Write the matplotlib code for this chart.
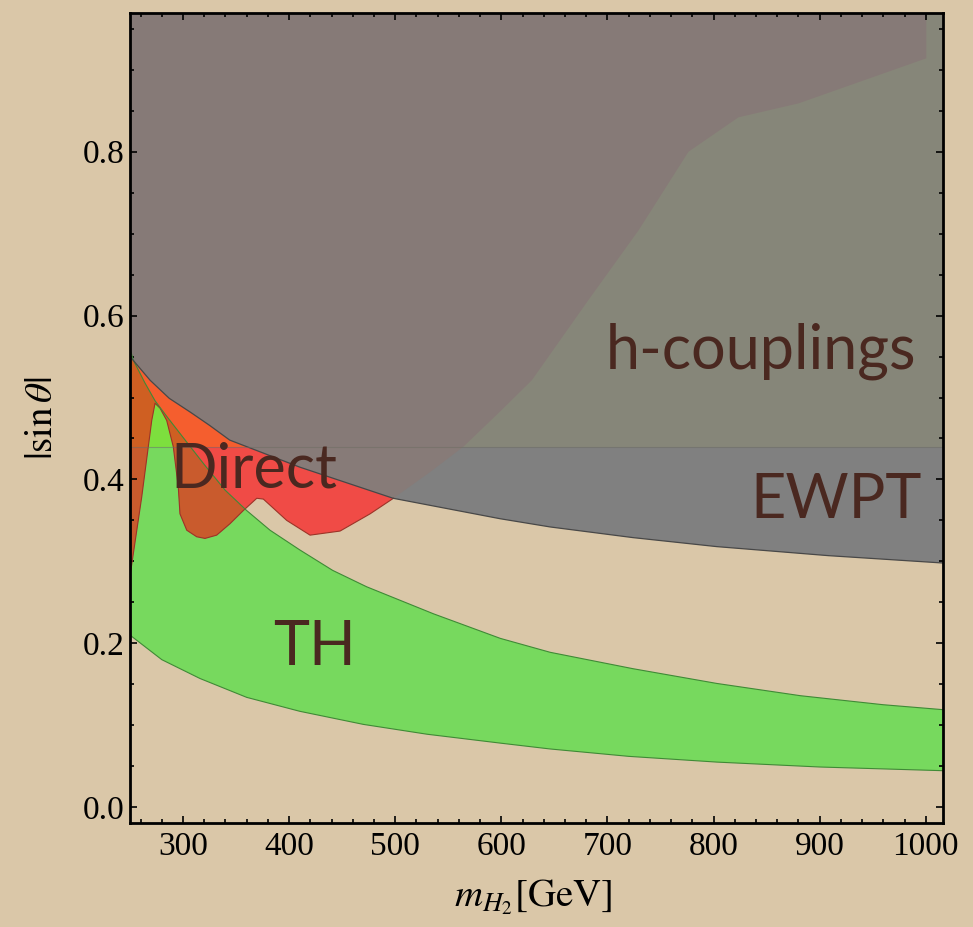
import matplotlib
matplotlib.use("Agg")
import matplotlib.pyplot as plt
import matplotlib.ticker as ticker
from matplotlib.patches import Polygon
from matplotlib.transforms import Bbox, TransformedBbox
import numpy as np

# EWPT bound (excluded above)
ewpt_m = [250, 269, 287, 307, 325, 344, 410, 498, 599, 646, 724, 803, 908, 1016]
ewpt_s = [0.550, 0.521, 0.499, 0.482, 0.466, 0.448, 0.415, 0.377, 0.352, 0.342,
          0.329, 0.318, 0.307, 0.298]

# TH band, upper and lower edges
th_hi_m = [250, 253, 264, 273.6, 284.6, 302, 320.7, 339.6, 360, 382, 410, 441,
           473, 536, 599, 646, 724, 803, 882, 960, 1016]
th_hi_s = [0.560, 0.546, 0.518, 0.496, 0.477, 0.448, 0.417, 0.387, 0.362, 0.338,
           0.314, 0.289, 0.269, 0.236, 0.206, 0.189, 0.169, 0.151, 0.136, 0.125, 0.119]
th_lo_m = [250, 280, 316, 360, 410, 470, 530, 600, 646, 720, 803, 900, 1016]
th_lo_s = [0.210, 0.180, 0.157, 0.134, 0.117, 0.101, 0.089, 0.078, 0.071, 0.062,
           0.055, 0.049, 0.0445]

# Direct searches: lower edge (visible part) and the part hidden under EWPT
direct_lo_m = [250, 261, 270.5, 273.6, 278.3, 284.6, 290.8, 295.5, 297.1, 303.5,
               312.9, 320.7, 331.7, 344.3, 356.8, 369.5, 375.7, 397.7, 419.7, 448,
               476.3, 498.3]
direct_lo_s = [0.282, 0.378, 0.472, 0.493, 0.487, 0.472, 0.440, 0.391, 0.358, 0.338,
               0.330, 0.328, 0.332, 0.346, 0.362, 0.377, 0.376, 0.350, 0.332, 0.337,
               0.358, 0.377]
direct_up_m = [532.9, 564.3, 598.9, 628.7, 655.4, 682.1, 729.3, 776.4, 823.5, 880.1,
               1000.5, 1000.5, 250]
direct_up_s = [0.409, 0.440, 0.483, 0.521, 0.570, 0.619, 0.704, 0.800, 0.842, 0.859,
               0.914, 1.0, 1.0]

HC_LIMIT = 0.44  # h-couplings bound
XMIN, XMAX = 250, 1016
YMIN, YMAX = -0.019, 0.969

BG = "#dac7a8"
LOWER = {"th": "#77d95e", "direct": "#f04b46", "both": "#c95b2d",
         "ewpt": "#808080", "excl": "#877b78"}
UPPER = {"th": "#7ddf3e", "direct": "#f55e2e", "both": "#cf5f22",
         "ewpt": "#868679", "excl": "#867a77"}
TXT = "#4a2820"

plt.rcParams["mathtext.fontset"] = "stix"


def region(ax, xs, ys, color, clip=None, box=None):
    poly = Polygon(np.column_stack([xs, ys]), closed=True, fc=color, ec="none", lw=0)
    ax.add_patch(poly)
    if clip is not None:
        poly.set_clip_path(clip)
    if box is not None:
        poly.set_clip_box(box)
    return poly


def draw_layers(ax, pal, box=None):
    th_x = th_hi_m + th_lo_m[::-1]
    th_y = th_hi_s + th_lo_s[::-1]
    ew_x = ewpt_m + [XMAX, XMIN]
    ew_y = ewpt_s + [1.0, 1.0]
    region(ax, th_x, th_y, pal["th"], box=box)
    direct = region(ax, direct_lo_m + direct_up_m, direct_lo_s + direct_up_s,
                    pal["direct"], box=box)
    region(ax, th_x, th_y, pal["both"], clip=direct, box=box)
    region(ax, ew_x, ew_y, pal["ewpt"], box=box)
    region(ax, ew_x, ew_y, pal["excl"], clip=direct, box=box)


fig = plt.figure(figsize=(9.73, 9.27), dpi=100)
fig.patch.set_facecolor(BG)
ax = fig.add_axes([0.1336, 0.1125, 0.8353, 0.8732])
ax.set_facecolor(BG)
ax.set_xlim(XMIN, XMAX)
ax.set_ylim(YMIN, YMAX)

draw_layers(ax, LOWER)
hc_box = TransformedBbox(Bbox([[XMIN, HC_LIMIT], [XMAX, YMAX]]), ax.transData)
draw_layers(ax, UPPER, box=hc_box)

ax.plot(direct_lo_m, direct_lo_s, color="#9c3428", lw=0.8)
ax.plot(th_hi_m, th_hi_s, color="#3f8a36", lw=0.8)
ax.plot(th_lo_m, th_lo_s, color="#3f8a36", lw=0.8)
ax.plot(ewpt_m, ewpt_s, color="#484848", lw=0.9)
ax.axhline(HC_LIMIT, color="#6c6c62", lw=0.8, alpha=0.5)

lab = dict(color=TXT, fontsize=44, family="Lato", ha="center", va="baseline")
ax.text(845, 0.536, "h-couplings", **lab)
ax.text(367, 0.390, "Direct", **lab)
ax.text(915, 0.3526, "EWPT", **lab)
ax.text(424, 0.173, "TH", **lab)

ax.xaxis.set_major_locator(ticker.MultipleLocator(100))
ax.xaxis.set_minor_locator(ticker.MultipleLocator(20))
ax.yaxis.set_major_locator(ticker.MultipleLocator(0.2))
ax.yaxis.set_minor_locator(ticker.MultipleLocator(0.05))
ax.yaxis.set_major_formatter(ticker.FormatStrFormatter("%.1f"))
ax.tick_params(which="both", direction="in", top=True, right=True, width=1.2)
ax.tick_params(which="major", length=5)
ax.tick_params(which="minor", length=2.8)
ax.tick_params(axis="x", pad=6.5)
ax.tick_params(axis="y", pad=3.6)
for t in ax.get_xticklabels() + ax.get_yticklabels():
    t.set_family("Liberation Serif")
    t.set_fontsize(24)
for spine in ax.spines.values():
    spine.set_linewidth(2.0)

ax.set_ylabel(r"$|\sin\theta|$", fontsize=28)
ax.yaxis.set_label_coords(-0.086, 0.5)
ax.set_xlabel(r"$m_{H_2}[\mathrm{GeV}]$", fontsize=28)
ax.xaxis.set_label_coords(0.496, -0.068)

fig.savefig("out.png", dpi=100, facecolor=fig.get_facecolor())
plt.close(fig)
